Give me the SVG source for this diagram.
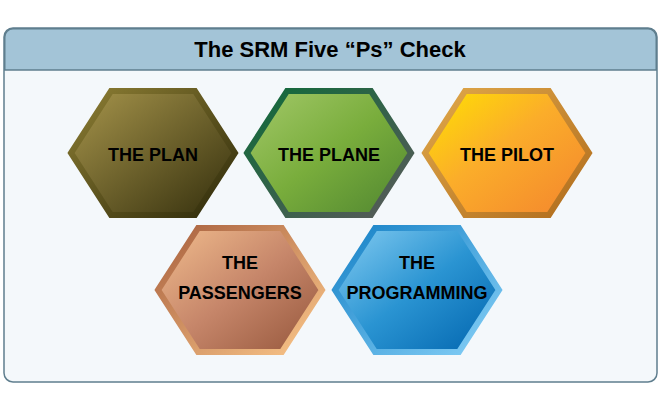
<svg xmlns="http://www.w3.org/2000/svg" width="667" height="398" viewBox="0 0 667 398">
<defs>
<linearGradient id="fPlan" x1="0" y1="0" x2="1" y2="1"><stop offset="0" stop-color="#a8964c"/><stop offset="1" stop-color="#332e0c"/></linearGradient>
<linearGradient id="sPlan" x1="0" y1="0" x2="1" y2="1"><stop offset="0" stop-color="#8d7e34"/><stop offset="1" stop-color="#2e2a0a"/></linearGradient>
<linearGradient id="fPlane" x1="0" y1="0" x2="1" y2="1"><stop offset="0" stop-color="#a4c96a"/><stop offset="0.5" stop-color="#79ad3c"/><stop offset="1" stop-color="#4f8530"/></linearGradient>
<linearGradient id="sPlane" x1="0" y1="0" x2="1" y2="1"><stop offset="0" stop-color="#0f6a3a"/><stop offset="1" stop-color="#5a5a5a"/></linearGradient>
<linearGradient id="fPilot" x1="0" y1="0" x2="1" y2="1"><stop offset="0" stop-color="#ffe300"/><stop offset="0.45" stop-color="#fbad2a"/><stop offset="1" stop-color="#f3842e"/></linearGradient>
<linearGradient id="sPilot" x1="0" y1="0" x2="1" y2="1"><stop offset="0" stop-color="#e0a84a"/><stop offset="1" stop-color="#b06c1c"/></linearGradient>
<linearGradient id="fPass" x1="0" y1="0" x2="1" y2="1"><stop offset="0" stop-color="#f2be8e"/><stop offset="0.5" stop-color="#c6866a"/><stop offset="1" stop-color="#94553a"/></linearGradient>
<linearGradient id="sPass" x1="0" y1="0" x2="1" y2="1"><stop offset="0" stop-color="#a8603e"/><stop offset="1" stop-color="#fbc78a"/></linearGradient>
<linearGradient id="fProg" x1="0" y1="0" x2="1" y2="1"><stop offset="0" stop-color="#86cdf2"/><stop offset="0.5" stop-color="#2a94d2"/><stop offset="1" stop-color="#0063ad"/></linearGradient>
<linearGradient id="sProg" x1="0" y1="0" x2="1" y2="1"><stop offset="0" stop-color="#1681c6"/><stop offset="1" stop-color="#86d0f7"/></linearGradient>
<polygon id="hex" points="-82,0 -42,-62 42,-62 82,0 42,62 -42,62"/>
</defs>
<style>
.lbl{font-family:"Liberation Sans",Arial,sans-serif;font-weight:bold;font-size:18px;fill:#000;text-anchor:middle}
.hx{stroke-width:6;stroke-linejoin:miter}
</style>
<g id="frame">
<rect x="4" y="28" width="653" height="354" rx="9" fill="#f4f8fb" stroke="#5f7e8e" stroke-width="1.5"/>
<path d="M4.75,70 V37 a8.25,8.25 0 0 1 8.25,-8.25 H648 a8.25,8.25 0 0 1 8.25,8.25 V70 Z" fill="#a3c4d7" stroke="#5f7e8e" stroke-width="1.5"/>
<text x="330" y="57" style="font-family:'Liberation Sans',Arial,sans-serif;font-weight:bold;font-size:22px;fill:#000;text-anchor:middle">The SRM Five “Ps” Check</text>
</g>
<g id="plan" transform="translate(153,153)">
<use href="#hex" class="hx" fill="url(#fPlan)" stroke="url(#sPlan)"/>
<text class="lbl" y="8">THE PLAN</text>
</g>
<g id="plane" transform="translate(329,153)">
<use href="#hex" class="hx" fill="url(#fPlane)" stroke="url(#sPlane)"/>
<text class="lbl" y="8">THE PLANE</text>
</g>
<g id="pilot" transform="translate(507,153)">
<use href="#hex" class="hx" fill="url(#fPilot)" stroke="url(#sPilot)"/>
<text class="lbl" y="8">THE PILOT</text>
</g>
<g id="passengers" transform="translate(240,290)">
<use href="#hex" class="hx" fill="url(#fPass)" stroke="url(#sPass)"/>
<text class="lbl" y="-21">THE</text>
<text class="lbl" y="9">PASSENGERS</text>
</g>
<g id="programming" transform="translate(417,290)">
<use href="#hex" class="hx" fill="url(#fProg)" stroke="url(#sProg)"/>
<text class="lbl" y="-21">THE</text>
<text class="lbl" y="9">PROGRAMMING</text>
</g>
<g id="connectors"/>
</svg>
